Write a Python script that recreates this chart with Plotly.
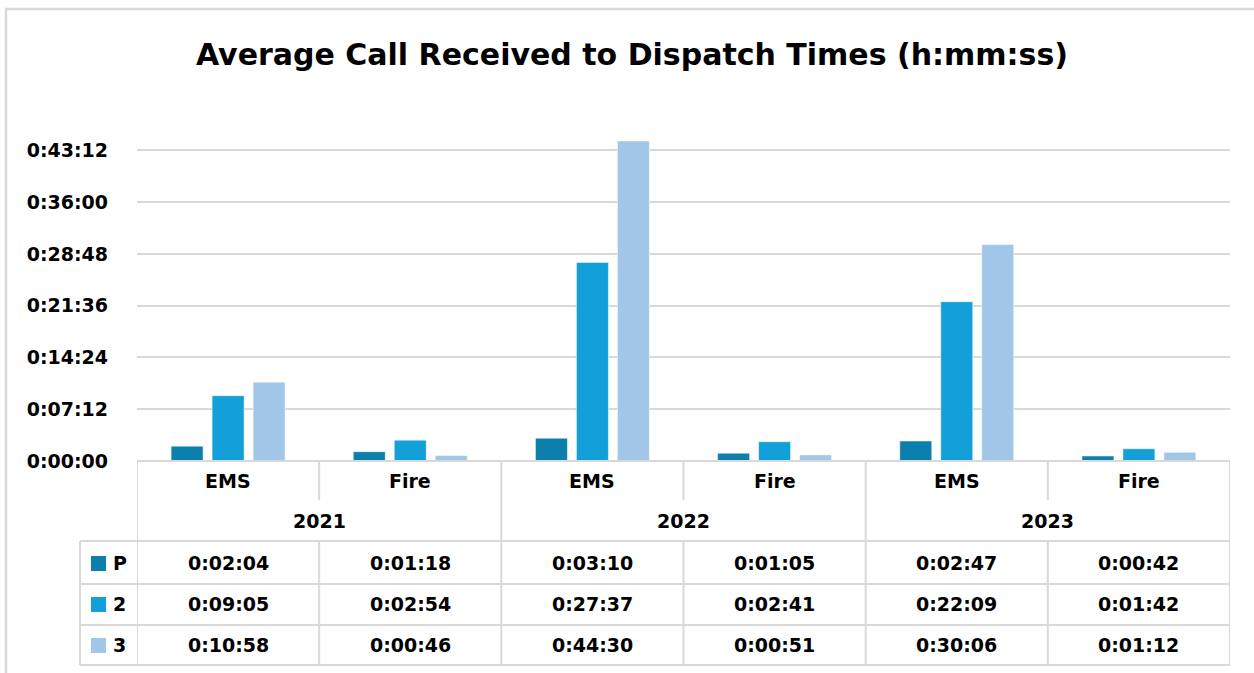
import plotly.graph_objects as go

# =========================
# DATOS (segundos)
# =========================
anios = ["2021", "2022", "2023"]
servicios = ["EMS", "Fire", "EMS", "Fire", "EMS", "Fire"]
series = ["P", "2", "3"]

valores_p = [124, 78, 190, 65, 167, 42]
valores_2 = [545, 174, 1657, 161, 1329, 102]
valores_3 = [658, 46, 2670, 51, 1806, 72]

etiquetas_p = ["0:02:04", "0:01:18", "0:03:10", "0:01:05", "0:02:47", "0:00:42"]
etiquetas_2 = ["0:09:05", "0:02:54", "0:27:37", "0:02:41", "0:22:09", "0:01:42"]
etiquetas_3 = ["0:10:58", "0:00:46", "0:44:30", "0:00:51", "0:30:06", "0:01:12"]

ticks_seg = [0, 432, 864, 1296, 1728, 2160, 2592]
ticks_txt = ["0:00:00", "0:07:12", "0:14:24", "0:21:36", "0:28:48", "0:36:00", "0:43:12"]

colores = ["#0C7FAC", "#139FD7", "#A1C6E7"]

# =========================
# GEOMETRIA
# =========================
W, H = 1254, 673
M_L, M_R, M_T, M_B = 137, 24, 141, 212
ALTO_PLOT = H - M_T - M_B
ANCHO_PLOT = W - M_L - M_R
Y0 = H - M_B  # pixel del eje


def py(p):
    return (Y0 - p) / ALTO_PLOT


def px(p):
    return (p - M_L) / ANCHO_PLOT


GRIS = "#D9D9D9"
FUENTE = "DejaVu Sans"

fig = go.Figure()
x = list(range(len(servicios)))
for nombre, vals, col in zip(series, [valores_p, valores_2, valores_3], colores):
    fig.add_trace(go.Bar(
        x=x, y=vals, name=nombre,
        marker=dict(color=col, line=dict(color="white", width=0.5)),
        showlegend=False,
    ))

shapes = []
anots = []

# marco exterior
shapes.append(dict(type="rect", xref="paper", yref="paper",
                   x0=px(6), x1=px(1262), y0=py(9), y1=py(690),
                   line=dict(color=GRIS, width=2.5), layer="below"))


def linea(x0, x1, y0, y1, xref="x"):
    shapes.append(dict(type="line", xref=xref, yref="paper",
                       x0=x0, x1=x1, y0=py(y0), y1=py(y1),
                       line=dict(color=GRIS, width=2)))


# horizontales
linea(-0.5, 5.5, 461, 461)
for yy in [541, 584, 625, 665]:
    linea(px(80), 1.0, yy, yy, xref="paper")
# verticales
for xv in [-0.5, 1.5, 3.5, 5.5]:
    linea(xv, xv, 461, 665)
for xv in [0.5, 2.5, 4.5]:
    linea(xv, xv, 461, 500)
    linea(xv, xv, 541, 665)
linea(px(80), px(80), 541, 665, xref="paper")

fuente_tabla = dict(family=FUENTE, size=19, color="black", weight="bold")


def texto(xv, yp, t, xref="x", xanchor="center"):
    anots.append(dict(x=xv, y=py(yp), xref=xref, yref="paper", text=t,
                      showarrow=False, xanchor=xanchor, yanchor="middle",
                      font=fuente_tabla))


for i, s in enumerate(servicios):
    texto(i, 481, s)
for j, a in enumerate(anios):
    texto(2 * j + 0.5, 521, a)

centros = [563, 604, 645]
for fila, (nombre, etqs, col) in enumerate(zip(series, [etiquetas_p, etiquetas_2, etiquetas_3], colores)):
    yc = centros[fila]
    for i, t in enumerate(etqs):
        texto(i, yc, t)
    shapes.append(dict(type="rect", xref="paper", yref="paper",
                       x0=px(91), x1=px(106), y0=py(yc - 7), y1=py(yc + 8),
                       fillcolor=col, line=dict(width=0)))
    texto(px(111), yc, nombre, xref="paper", xanchor="left")

fig.update_layout(
    width=W, height=H,
    margin=dict(l=M_L, r=M_R, t=M_T, b=M_B),
    paper_bgcolor="white", plot_bgcolor="white",
    title=dict(text="Average Call Received to Dispatch Times (h:mm:ss)",
               x=632 / W, xref="container", xanchor="center", y=1 - 54 / H, yanchor="middle",
               font=dict(family=FUENTE, size=30, color="black", weight="bold")),
    barmode="group", bargap=0.325, bargroupgap=0.22,
    xaxis=dict(range=[-0.5, 5.5], showticklabels=False, showgrid=False,
               zeroline=False, fixedrange=True),
    yaxis=dict(range=[0, 2670], tickvals=ticks_seg, ticktext=ticks_txt,
               showgrid=True, gridcolor=GRIS, gridwidth=1.5, zeroline=False,
               ticks="", ticklabelstandoff=28,
               tickfont=dict(family=FUENTE, size=19, color="black", weight="bold")),
    shapes=shapes, annotations=anots,
    font=dict(family=FUENTE),
)

fig.write_html("out.html", config={"displayModeBar": False},
               post_script="document.body.style.margin='0';")
